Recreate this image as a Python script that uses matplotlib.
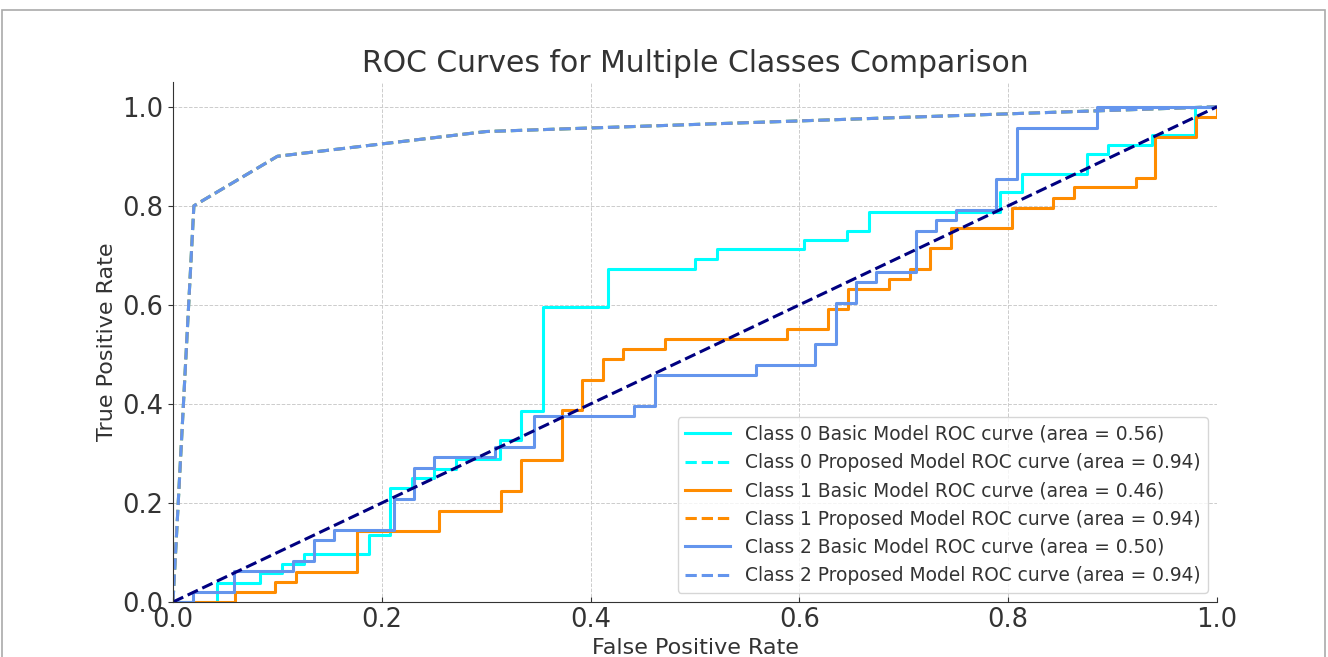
import matplotlib
matplotlib.use("Agg")
import matplotlib.pyplot as plt
from matplotlib.patches import Rectangle

# ROC points (fpr where a step happens, tpr after it)
class0_fpr = [0.0, 0.042, 0.083, 0.104, 0.125, 0.188, 0.208, 0.229, 0.25, 0.271, 0.313, 0.333, 0.354,
              0.417, 0.5, 0.521, 0.604, 0.646, 0.667, 0.792, 0.813, 0.875, 0.896, 0.938, 0.979, 1.0]
class0_tpr = [0.0, 0.038, 0.058, 0.077, 0.096, 0.135, 0.231, 0.25, 0.269, 0.288, 0.327, 0.385, 0.596,
              0.673, 0.692, 0.712, 0.731, 0.75, 0.788, 0.827, 0.865, 0.904, 0.923, 0.942, 1.0, 1.0]

class1_fpr = [0.0, 0.059, 0.098, 0.118, 0.176, 0.255, 0.314, 0.333, 0.373, 0.392, 0.412, 0.431, 0.471,
              0.588, 0.627, 0.647, 0.686, 0.706, 0.725, 0.745, 0.804, 0.843, 0.863, 0.922, 0.941, 0.98, 1.0]
class1_tpr = [0.0, 0.020, 0.041, 0.061, 0.143, 0.184, 0.224, 0.286, 0.388, 0.449, 0.49, 0.51, 0.531,
              0.551, 0.592, 0.633, 0.653, 0.673, 0.714, 0.755, 0.796, 0.816, 0.837, 0.857, 0.939, 0.98, 1.0]

class2_fpr = [0.0, 0.019, 0.058, 0.115, 0.135, 0.154, 0.212, 0.231, 0.25, 0.308, 0.346, 0.442, 0.462,
              0.558, 0.615, 0.635, 0.654, 0.673, 0.712, 0.731, 0.75, 0.788, 0.808, 0.885, 1.0]
class2_tpr = [0.0, 0.021, 0.063, 0.083, 0.125, 0.146, 0.208, 0.271, 0.292, 0.313, 0.375, 0.396, 0.458,
              0.479, 0.521, 0.604, 0.646, 0.667, 0.75, 0.771, 0.792, 0.854, 0.958, 1.0, 1.0]

# proposed model curve (same for all three classes)
proposed_fpr = [0.0, 0.02, 0.1, 0.3, 1.0]
proposed_tpr = [0.0, 0.8, 0.9, 0.95, 1.0]

basic_auc = [0.56, 0.46, 0.50]
proposed_auc = [0.94, 0.94, 0.94]
colors = ['aqua', 'darkorange', 'cornflowerblue']

basic_curves = [(class0_fpr, class0_tpr), (class1_fpr, class1_tpr), (class2_fpr, class2_tpr)]

fig = plt.figure(figsize=(13.28, 6.57), dpi=100)
ax = fig.add_axes([173 / 1328, 55 / 657, 1044 / 1328, 520 / 657])

for i, (fpr, tpr) in enumerate(basic_curves):
    ax.plot(fpr, tpr, color=colors[i], lw=2.2, drawstyle='steps-post',
            label=f'Class {i} Basic Model ROC curve (area = {basic_auc[i]:.2f})')
    ax.plot(proposed_fpr, proposed_tpr, color=colors[i], lw=2.2, linestyle='--',
            label=f'Class {i} Proposed Model ROC curve (area = {proposed_auc[i]:.2f})')

ax.plot([0, 1], [0, 1], color='navy', lw=2.2, linestyle='--')

ax.set_xlim(0.0, 1.0)
ax.set_ylim(0.0, 1.05)
ax.set_xlabel('False Positive Rate', fontsize=16, color='#333333')
ax.set_ylabel('True Positive Rate', fontsize=16, color='#333333')
ax.set_title('ROC Curves for Multiple Classes Comparison', fontsize=21.5, color='#333333', pad=7)
ax.tick_params(labelsize=18.5, colors='#333333')
ax.tick_params(axis='x', direction='in')
ax.grid(True, linestyle='--', linewidth=0.7, color='#cccccc')
ax.spines['top'].set_visible(False)
ax.spines['right'].set_visible(False)
ax.spines['left'].set_color('#333333')
ax.spines['bottom'].set_color('#333333')

leg = ax.legend(loc='lower right', fontsize=13.4, handlelength=2.4, labelspacing=0.5,
                edgecolor='#cccccc')
for t in leg.get_texts():
    t.set_color('#333333')

# thin frame around the picture like the screenshot
fig.patches.append(Rectangle((2 / 1328, -0.05), 1323 / 1328, 1.05 - 10 / 657, transform=fig.transFigure,
                             fill=False, edgecolor='#aaaaaa', lw=1.2))

fig.savefig('out.png', dpi=100)
